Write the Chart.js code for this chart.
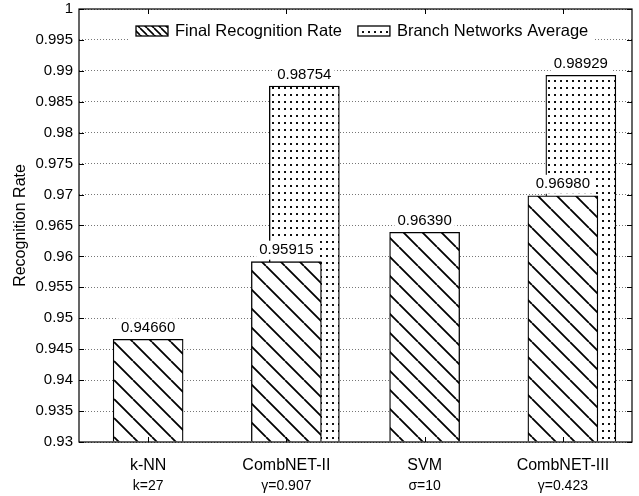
<!DOCTYPE html>
<html>
<head>
<meta charset="utf-8">
<script src="https://cdn.jsdelivr.net/npm/chart.js@4.4.1/dist/chart.umd.min.js"></script>
<style>
  html, body { margin: 0; padding: 0; background: #fff; }
  #wrap { width: 639px; height: 496px; }
</style>
</head>
<body>
<div id="wrap"><canvas id="c" width="639" height="496"></canvas></div>
<script>
// Methods compared and their parameter settings
const categories = ['k-NN', 'CombNET-II', 'SVM', 'CombNET-III'];
const parameters = ['k=27', 'γ=0.907', 'σ=10', 'γ=0.423'];

// Recognition rates
const finalRate = [0.94660, 0.95915, 0.96390, 0.96980];
const branchAverage = [null, 0.98754, null, 0.98929];
const seriesNames = ['Final Recognition Rate', 'Branch Networks Average'];

// Value axis
const yMin = 0.93;
const yMax = 1;
const yStep = 0.005;

const FONT = "'Liberation Sans', Arial, Helvetica, sans-serif";
const BRANCH_SHIFT = 0.13;   // branch bars sit slightly right of and behind the final bars

// Fill patterns
function hatchPattern(step, width) {
  const c = document.createElement('canvas');
  c.width = step; c.height = step;
  const g = c.getContext('2d');
  g.fillStyle = '#fff';
  g.fillRect(0, 0, step, step);
  g.strokeStyle = '#000';
  g.lineWidth = width;
  g.beginPath();
  for (let k = -1; k <= 1; k++) {
    g.moveTo(k * step, 0);
    g.lineTo(k * step + step, step);
  }
  g.stroke();
  return g.createPattern(c, 'repeat');
}
function dotPattern(w, h) {
  const c = document.createElement('canvas');
  c.width = w; c.height = h;
  const g = c.getContext('2d');
  g.fillStyle = '#fff';
  g.fillRect(0, 0, w, h);
  g.fillStyle = '#111';
  g.fillRect(2, 3, 2, 2);
  return g.createPattern(c, 'repeat');
}
const hatchFill = hatchPattern(19, 1.8);
const dotFill = dotPattern(6, 7);
const hatchLegend = hatchPattern(7, 1.6);

// Axis frame with inward tick marks
const framePlugin = {
  id: 'frame',
  afterDraw(chart) {
    const { ctx, chartArea: a, scales } = chart;
    ctx.save();
    ctx.strokeStyle = '#000';
    ctx.lineWidth = 1.2;
    ctx.strokeRect(a.left, a.top, a.right - a.left, a.bottom - a.top);
    ctx.beginPath();
    scales.y.ticks.forEach(t => {
      const y = Math.round(scales.y.getPixelForValue(t.value)) + 0.5;
      ctx.moveTo(a.left, y); ctx.lineTo(a.left + 5, y);
      ctx.moveTo(a.right, y); ctx.lineTo(a.right - 5, y);
    });
    scales.x.ticks.forEach(t => {
      const x = Math.round(scales.x.getPixelForValue(t.value)) + 0.5;
      ctx.moveTo(x, a.bottom); ctx.lineTo(x, a.bottom - 5);
      ctx.moveTo(x, a.top); ctx.lineTo(x, a.top + 5);
    });
    ctx.lineWidth = 1;
    ctx.stroke();
    ctx.restore();
  }
};

// Value labels above the bars, on a white backing
const valuePlugin = {
  id: 'values',
  afterDatasetsDraw(chart) {
    const { ctx } = chart;
    ctx.save();
    ctx.font = '15px ' + FONT;
    ctx.textAlign = 'center';
    ctx.textBaseline = 'bottom';
    chart.data.datasets.forEach((ds, di) => {
      chart.getDatasetMeta(di).data.forEach((el, i) => {
        const text = ds.data[i].y.toFixed(5);
        const w = ctx.measureText(text).width;
        ctx.fillStyle = '#fff';
        ctx.fillRect(el.x - w / 2 - 3, el.y - 21, w + 6, 19);
        ctx.fillStyle = '#000';
        ctx.fillText(text, el.x, el.y - 4);
      });
    });
    ctx.restore();
  }
};

// Legend box inside the plot area
const legendPlugin = {
  id: 'boxLegend',
  afterDatasetsDraw(chart) {
    const { ctx, chartArea: a } = chart;
    const fills = [hatchLegend, dotFill];
    const cy = a.top + 22;
    ctx.save();
    ctx.fillStyle = '#fff';
    ctx.fillRect(128, cy - 13, 466, 27);
    ctx.font = '16.5px ' + FONT;
    ctx.textBaseline = 'middle';
    let x = 136;
    seriesNames.forEach((name, i) => {
      ctx.fillStyle = fills[i];
      ctx.fillRect(x, cy - 5, 32, 10);
      ctx.strokeStyle = '#000';
      ctx.lineWidth = 1.3;
      ctx.strokeRect(x, cy - 5, 32, 10);
      ctx.fillStyle = '#000';
      ctx.fillText(name, x + 39, cy);
      x += 39 + ctx.measureText(name).width + 16;
    });
    ctx.restore();
  }
};

const ctx = document.getElementById('c').getContext('2d');
new Chart(ctx, {
  type: 'bar',
  data: {
    datasets: [
      {
        label: seriesNames[0],
        data: finalRate.map((v, i) => ({ x: i + 1, y: v })),
        backgroundColor: hatchFill,
        borderColor: '#000',
        borderWidth: 1.3,
        base: yMin,
        barThickness: 70,
        grouped: false
      },
      {
        label: seriesNames[1],
        data: branchAverage
          .map((v, i) => (v == null ? null : { x: i + 1 + BRANCH_SHIFT, y: v }))
          .filter(Boolean),
        backgroundColor: dotFill,
        borderColor: '#000',
        borderWidth: 1.3,
        base: yMin,
        barThickness: 70,
        grouped: false
      }
    ]
  },
  options: {
    responsive: false,
    animation: false,
    devicePixelRatio: 1,
    layout: { padding: { left: 0, right: 7, top: 9, bottom: 0 } },
    plugins: { legend: { display: false }, tooltip: { enabled: false } },
    scales: {
      x: {
        type: 'linear', min: 0.5, max: 4.5, position: 'bottom', weight: 0, offset: false,
        grid: { display: false, drawTicks: false, offset: false },
        border: { display: false },
        afterBuildTicks: s => { s.ticks = categories.map((c, i) => ({ value: i + 1 })); },
        afterFit: s => { s.height = 34; s.paddingLeft = 0; s.paddingRight = 0; },
        ticks: {
          callback: v => categories[Math.round(v) - 1],
          font: { family: FONT, size: 16 }, color: '#000',
          padding: 14, maxRotation: 0, autoSkip: false
        }
      },
      x2: {
        type: 'linear', min: 0.5, max: 4.5, position: 'bottom', weight: 1, offset: false,
        grid: { display: false, drawTicks: false, offset: false },
        border: { display: false },
        afterBuildTicks: s => { s.ticks = parameters.map((p, i) => ({ value: i + 1 })); },
        afterFit: s => { s.height = 20; s.paddingLeft = 0; s.paddingRight = 0; },
        ticks: {
          callback: v => parameters[Math.round(v) - 1],
          font: { family: FONT, size: 14 }, color: '#000',
          padding: 2, maxRotation: 0, autoSkip: false
        }
      },
      y: {
        min: yMin, max: yMax,
        afterFit: s => { s.width = 79; s.paddingTop = 0; s.paddingBottom = 0; },
        grid: { color: '#777', lineWidth: 1, drawTicks: false },
        border: { display: false, dash: [1, 2] },
        ticks: {
          stepSize: yStep,
          callback: v => String(+v.toFixed(3)),
          font: { family: FONT, size: 15 }, color: '#000',
          padding: 6
        },
        title: {
          display: true, text: 'Recognition Rate', color: '#000',
          font: { family: FONT, size: 16 },
          padding: { top: 11, bottom: 0 }
        }
      }
    }
  },
  plugins: [framePlugin, valuePlugin, legendPlugin]
});
</script>
</body>
</html>
